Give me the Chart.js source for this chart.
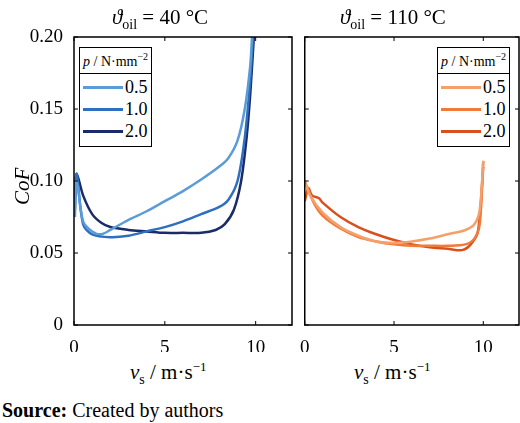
<!DOCTYPE html>
<html><head><meta charset="utf-8">
<script src="https://cdn.jsdelivr.net/npm/chart.js@4"></script>
<style>
body{margin:0;background:#fff;font-family:"Liberation Serif",serif;color:#000}
#wrap{position:relative;width:520px;height:423px;font-family:"Liberation Serif",serif}
canvas{position:absolute;top:0}
.t{position:absolute;white-space:nowrap;font-size:21px;font-family:"Liberation Serif",serif;line-height:1}
.leg{position:absolute;border:1.5px solid #000;background:#fff;font-size:18px;font-family:"Liberation Serif",serif}
.leg .hd{border-bottom:1.5px solid #000;padding:3px 3px;font-size:14px}
.leg .row{display:flex;align-items:center;padding:0 3px;height:22px}
.leg .ln{width:40px;height:3px;margin-right:2px}
</style></head><body>
<div id="wrap">
<canvas id="c1" style="left:0"></canvas>
<canvas id="c2" style="left:296px"></canvas>
<div class="t" style="left:112px;top:7px"><i>ϑ</i><sub style="font-size:14px">oil</sub> = 40 °C</div>
<div class="t" style="left:340px;top:7px"><i>ϑ</i><sub style="font-size:14px">oil</sub> = 110 °C</div>
<div class="t" style="left:12px;top:205px;transform:rotate(-90deg);transform-origin:left top;font-style:italic">CoF</div>
<div class="t" style="left:130px;top:360px"><i>v</i><sub style="font-size:14px">s</sub> / m·s<sup style="font-size:13px">−1</sup></div>
<div class="t" style="left:354px;top:360px"><i>v</i><sub style="font-size:14px">s</sub> / m·s<sup style="font-size:13px">−1</sup></div>
<div class="t" style="left:2px;top:400px;font-size:20px"><b>Source:</b> Created by authors</div>
<div class="leg" id="l1" style="left:79px;top:47px"></div>
<div class="leg" id="l2" style="left:437px;top:47px"></div>
</div>
<script>
const pressures = ["0.5", "1.0", "2.0"];
const coldColors = ["#5b9bd8", "#2f6fbf", "#1b2a6b"];
const hotColors = ["#f4a06a", "#ef7a3a", "#d9501f"];

const cold05x = [0.05,0.15,0.5,1,1.5,2,3,4,5,6,7,8,8.5,9,9.4,9.7,9.8];
const cold05y = [0.075,0.1,0.072,0.065,0.063,0.066,0.073,0.079,0.086,0.093,0.101,0.110,0.116,0.128,0.15,0.18,0.2];
const cold10x = [0.05,0.15,0.5,1,2,3,4,5,6,7,8,8.5,9,9.4,9.7,9.85];
const cold10y = [0.08,0.105,0.07,0.063,0.061,0.062,0.065,0.068,0.072,0.077,0.082,0.087,0.1,0.13,0.17,0.2];
const cold20x = [0.05,0.15,0.5,1,1.5,2,3,4,5,6,7,7.8,8.3,8.8,9.2,9.5,9.7,9.9];
const cold20y = [0.09,0.105,0.09,0.077,0.071,0.068,0.066,0.065,0.064,0.064,0.064,0.066,0.07,0.08,0.1,0.13,0.16,0.2];

const hot05x = [0,0.3,1,2,3,4,5,6,7,8,9,9.5,9.8,10];
const hot05y = [0.1,0.09,0.078,0.068,0.062,0.058,0.057,0.058,0.06,0.063,0.066,0.07,0.08,0.114];
const hot10x = [0,0.5,1,2,3,4,5,6,7,8,9,9.5,9.8,10];
const hot10y = [0.1,0.085,0.076,0.067,0.061,0.058,0.056,0.055,0.055,0.055,0.056,0.06,0.07,0.114];
const hot20x = [0,0.2,0.4,0.8,1,2,3,4,5,6,7,8,8.8,9.3,9.7,10];
const hot20y = [0.086,0.095,0.09,0.088,0.085,0.075,0.068,0.063,0.059,0.056,0.054,0.053,0.052,0.056,0.065,0.11];

const xTicks = [0, 5, 10];
const yTicks = [0, 0.05, 0.1, 0.15, 0.2];

function pts(xs, ys) { return xs.map((x, i) => ({ x: x, y: ys[i] })); }

const frame = {
    id: "frame",
    afterDraw(chart) {
        const ctx = chart.ctx, a = chart.chartArea, sx = chart.scales.x, sy = chart.scales.y;
        ctx.save();
        ctx.strokeStyle = "#000";
        ctx.lineWidth = 1.5;
        ctx.strokeRect(a.left, a.top, a.right - a.left, a.bottom - a.top);
        ctx.lineWidth = 1;
        xTicks.forEach(v => {
            const p = sx.getPixelForValue(v);
            ctx.beginPath(); ctx.moveTo(p, a.bottom); ctx.lineTo(p, a.bottom - 4);
            ctx.moveTo(p, a.top); ctx.lineTo(p, a.top + 4); ctx.stroke();
        });
        yTicks.forEach(v => {
            const p = sy.getPixelForValue(v);
            ctx.beginPath(); ctx.moveTo(a.left, p); ctx.lineTo(a.left + 4, p);
            ctx.moveTo(a.right, p); ctx.lineTo(a.right - 4, p); ctx.stroke();
        });
        ctx.restore();
    }
};

function makeChart(id, w, series, colors, showY) {
    const cv = document.getElementById(id);
    cv.style.width = w + "px"; cv.style.height = "352px";
    return new Chart(cv, {
        type: "line",
        data: {
            datasets: series.map((s, i) => ({
                label: pressures[i],
                data: s,
                borderColor: colors[i],
                borderWidth: 2.5,
                pointRadius: 0,
                tension: 0.3,
                fill: false
            }))
        },
        options: {
            responsive: false,
            animation: false,
            layout: { padding: { top: 37, right: showY ? 4 : 1 } },
            plugins: { legend: { display: false }, tooltip: { enabled: false } },
            scales: {
                x: {
                    type: "linear", min: 0, max: 12,
                    afterBuildTicks: s => { s.ticks = xTicks.map(v => ({ value: v })); },
                    afterFit: s => { s.height = 27; },
                    grid: { display: false }, border: { display: false },
                    ticks: { color: "#000", font: { family: "Liberation Serif", size: 19 }, padding: 4, maxRotation: 0 }
                },
                y: {
                    min: 0, max: 0.2,
                    afterBuildTicks: s => { s.ticks = yTicks.map(v => ({ value: v })); },
                    afterFit: s => { s.width = showY ? 74 : 6; },
                    grid: { display: false }, border: { display: false },
                    ticks: {
                        display: showY, color: "#000", font: { family: "Liberation Serif", size: 19 },
                        callback: v => v === 0 ? "0" : v.toFixed(2)
                    }
                }
            }
        },
        plugins: [frame]
    });
}

function legend(id, colors) {
    let h = '<div class="hd"><i>p</i> / N·mm<sup style="font-size:10px">−2</sup></div><div style="padding:3px 0">';
    pressures.forEach((p, i) => {
        h += '<div class="row"><div class="ln" style="background:' + colors[i] + '"></div>' + p + '</div>';
    });
    document.getElementById(id).innerHTML = h + '</div>';
}

const c1 = document.getElementById("c1"); c1.width = 296; c1.height = 352;
const c2 = document.getElementById("c2"); c2.width = 224; c2.height = 352;
makeChart("c1", 296, [pts(cold05x, cold05y), pts(cold10x, cold10y), pts(cold20x, cold20y)], coldColors, true);
makeChart("c2", 224, [pts(hot05x, hot05y), pts(hot10x, hot10y), pts(hot20x, hot20y)], hotColors, false);
legend("l1", coldColors);
legend("l2", hotColors);
</script>
</body></html>
